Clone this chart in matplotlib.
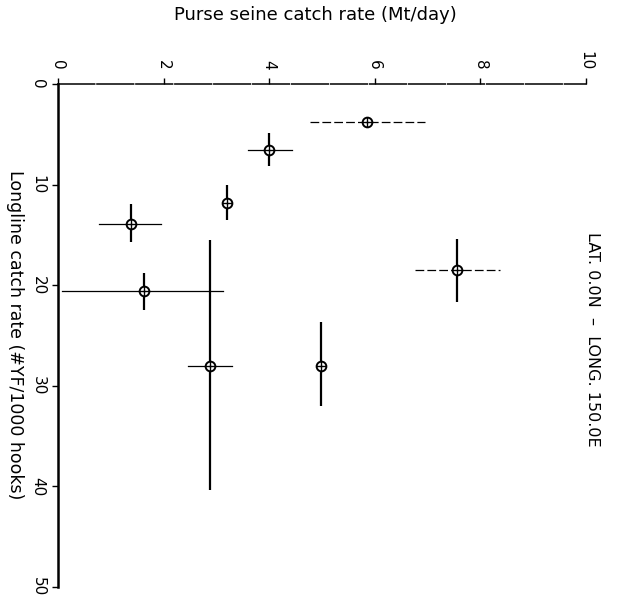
import numpy as np
import matplotlib
matplotlib.use("Agg")
import matplotlib.pyplot as plt

# purse seine catch rate (Mt/day) and its range
ps = np.array([5.85, 4.0, 3.2, 1.38, 1.62, 2.88, 4.99, 7.55])
ps_lo = np.array([4.77, 3.6, 3.2, 0.78, 0.07, 2.47, 4.99, 6.76])
ps_hi = np.array([6.95, 4.44, 3.2, 1.96, 3.13, 3.3, 4.99, 8.37])
# longline catch rate (#YF/1000 hooks) and its range
ll = np.array([3.75, 6.6, 11.8, 13.9, 20.6, 28.0, 28.0, 18.5])
ll_lo = np.array([3.75, 4.85, 10.0, 11.9, 18.8, 15.5, 23.7, 15.45])
ll_hi = np.array([3.75, 8.2, 13.5, 15.75, 22.5, 40.4, 32.05, 21.65])
dashed_bar = [True, False, False, False, False, False, False, True]

xticks = [0, 2, 4, 6, 8, 10]
yticks = [0, 10, 20, 30, 40, 50]

plt.rcParams['font.family'] = ['DejaVu Sans']

W, H = 617, 609
fig = plt.figure(figsize=(W / 100, H / 100), dpi=100)
ax = fig.add_axes([58 / W, 1 - 587 / H, 528 / W, 503 / H])

# vertical bars (longline range)
ax.errorbar(ps, ll, yerr=[ll - ll_lo, ll_hi - ll], fmt='none',
            ecolor='black', elinewidth=1.6, capsize=0)
# horizontal bars (purse seine range)
for i in range(len(ps)):
    ls = (0, (7, 2.5)) if dashed_bar[i] else '-'
    ax.plot([ps_lo[i], ps_hi[i]], [ll[i], ll[i]], color='black',
            lw=0.9, linestyle=ls)
ax.plot(ps, ll, 'o', mfc='white', mec='black', ms=7, mew=1.4, zorder=3)
ax.plot(ps, ll, '+', color='black', ms=7, mew=1.0, zorder=4)

ax.set_xlim(0, 10)
ax.set_ylim(50, 0)
ax.set_xticks(xticks)
ax.set_yticks(yticks)
ax.xaxis.tick_top()
ax.tick_params(axis='x', direction='out', length=4, width=1, pad=6,
               labelsize=11, labelrotation=-90)
ax.tick_params(axis='y', direction='out', length=4, width=1, pad=5,
               labelsize=11, labelrotation=-90)
for lab in ax.get_yticklabels():
    lab.set_va('center')

for s in ['right', 'bottom']:
    ax.spines[s].set_visible(False)
ax.spines['left'].set_linewidth(1.8)
ax.spines['top'].set_linewidth(1.1)
ax.spines['top'].set_linestyle((0, (24, 1.5)))

fig.text(315 / W, 1 - 15 / H, 'Purse seine catch rate (Mt/day)',
         ha='center', va='center', fontsize=13)
fig.text(15 / W, 1 - 335 / H, 'Longline catch rate (#YF/1000 hooks)',
         ha='center', va='center', rotation=-90, fontsize=12.5)
fig.text(593 / W, 1 - 339 / H, 'LAT. 0.0N  \u2013  LONG. 150.0E',
         ha='center', va='center', rotation=-90, fontsize=11.5)

fig.savefig('out.png', dpi=100)
